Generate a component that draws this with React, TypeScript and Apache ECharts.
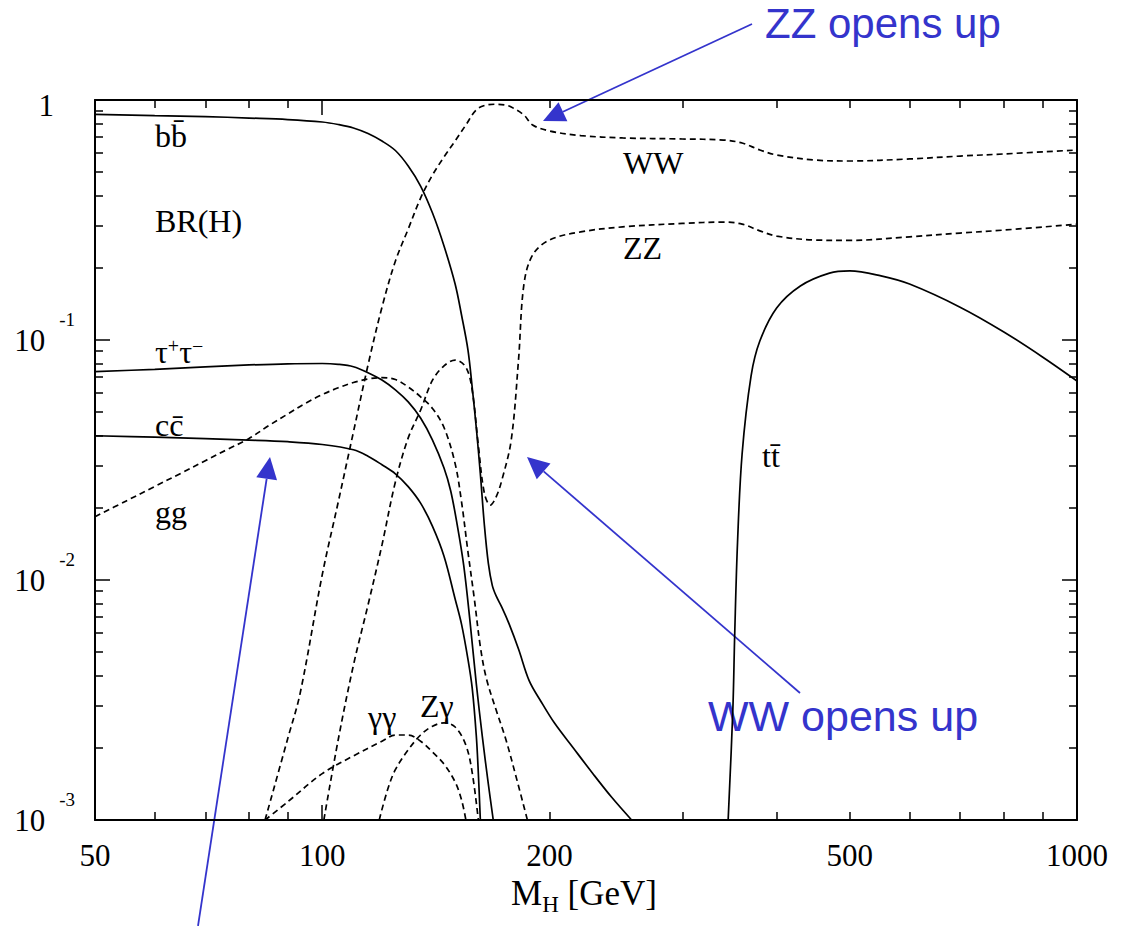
import React, { useEffect, useRef } from "react";
import * as echarts from "echarts";

// ---------- data (M_H in GeV, branching ratio) ----------
const massBB = [50, 60, 70, 80, 90, 100, 105, 110, 115, 120, 125, 130, 135, 140, 145, 150, 153, 156, 158, 160, 162, 164, 166, 168, 170, 173, 177, 182, 188, 195, 203, 215, 228, 242, 257];
const brBB = [0.872, 0.861, 0.853, 0.841, 0.829, 0.8096, 0.7905, 0.7647, 0.7249, 0.6745, 0.616, 0.531, 0.438, 0.338, 0.2464, 0.171, 0.1265, 0.0908, 0.0637, 0.0431, 0.0277, 0.01695, 0.01173, 0.0095, 0.00858, 0.00769, 0.00652, 0.00516, 0.00381, 0.00311, 0.00254, 0.002, 0.00157, 0.00124, 0.001];

const massTau = [50, 60, 70, 80, 90, 100, 105, 110, 115, 120, 125, 130, 135, 140, 145, 148, 151, 154, 157, 160, 163, 166, 168.5];
const brTau = [0.0738, 0.0755, 0.0773, 0.0787, 0.0796, 0.0798, 0.0792, 0.0774, 0.0731, 0.0681, 0.062, 0.0552, 0.0473, 0.0383, 0.0293, 0.0235, 0.01688, 0.01147, 0.00668, 0.0037, 0.00222, 0.00141, 0.001];

const massCC = [50, 60, 70, 80, 90, 100, 110, 115, 120, 125, 130, 135, 140, 145, 150, 153, 156, 158, 160, 161, 162];
const brCC = [0.0399, 0.0394, 0.0388, 0.0383, 0.0377, 0.0367, 0.0349, 0.0328, 0.0302, 0.0277, 0.0245, 0.0209, 0.01674, 0.01257, 0.00834, 0.00652, 0.00467, 0.00356, 0.00225, 0.00157, 0.001];

const massGG = [50, 55, 60, 65, 70, 75, 80, 85, 90, 95, 100, 105, 110, 115, 120, 125, 130, 135, 140, 145, 150, 153, 156, 159, 162, 165, 170, 175, 181, 187];
const brGG = [0.01835, 0.02136, 0.02453, 0.02786, 0.03141, 0.03508, 0.03887, 0.04402, 0.04914, 0.05448, 0.05922, 0.06322, 0.0665, 0.06878, 0.06971, 0.06845, 0.0637, 0.05799, 0.05184, 0.04319, 0.03055, 0.02105, 0.01308, 0.00841, 0.00527, 0.00389, 0.00287, 0.00218, 0.00148, 0.001];

const massWW = [84, 90, 93.5, 100, 105, 110, 115, 120, 125, 130, 135, 140, 145, 150, 155, 160, 165, 170, 175, 178, 185, 190, 200, 220, 250, 300, 340, 360, 380, 400, 450, 500, 600, 700, 800, 1000];
const brWW = [0.001, 0.00218, 0.00338, 0.0105, 0.0211, 0.0414, 0.0787, 0.137, 0.213, 0.29, 0.39, 0.487, 0.579, 0.675, 0.787, 0.91, 0.953, 0.96, 0.953, 0.935, 0.866, 0.787, 0.743, 0.711, 0.695, 0.688, 0.681, 0.662, 0.619, 0.59, 0.562, 0.557, 0.568, 0.584, 0.596, 0.619];

const massZZ = [100.5, 105, 110, 115, 120, 125, 130, 135, 140, 145, 150, 155, 158, 161, 164, 167, 170, 173, 178, 182, 185, 190, 200, 220, 250, 300, 340, 360, 380, 400, 450, 500, 600, 700, 800, 1000];
const brZZ = [0.001, 0.00216, 0.00442, 0.00787, 0.014, 0.0256, 0.0391, 0.051, 0.068, 0.078, 0.0825, 0.077, 0.0619, 0.0365, 0.023, 0.0205, 0.0222, 0.0261, 0.0383, 0.0825, 0.17, 0.226, 0.261, 0.282, 0.296, 0.306, 0.31, 0.304, 0.285, 0.271, 0.261, 0.26, 0.269, 0.279, 0.287, 0.304];

const massTT = [345, 350, 352, 355, 360, 370, 380, 400, 430, 470, 500, 550, 600, 700, 800, 900, 1000];
const brTT = [0.001, 0.0029, 0.006, 0.0143, 0.0335, 0.0709, 0.099, 0.136, 0.168, 0.19, 0.194, 0.185, 0.171, 0.137, 0.108, 0.085, 0.0675];

const massAA = [84, 90, 100, 110, 120, 125, 130, 135, 140, 145, 150, 153, 155];
const brAA = [0.001, 0.00119, 0.00156, 0.00185, 0.00213, 0.00226, 0.00226, 0.00213, 0.00192, 0.00171, 0.00144, 0.00121, 0.001];

const massZA = [119, 122, 125, 130, 135, 140, 145, 150, 155, 158, 161];
const brZA = [0.001, 0.00133, 0.00162, 0.00196, 0.00226, 0.00246, 0.00254, 0.00244, 0.00205, 0.00158, 0.001];

// ---------- axis ticks / labels ----------
const xLabelValues = [50, 100, 200, 500, 1000];
const xMajorTicks = [100, 1000];
const xMinorTicks = [60, 70, 80, 90, 200, 300, 400, 500, 600, 700, 800, 900];
const yMajorTicks = [0.001, 0.01, 0.1, 1];
const yMinorTicks = [
  0.002, 0.003, 0.004, 0.005, 0.006, 0.007, 0.008, 0.009,
  0.02, 0.03, 0.04, 0.05, 0.06, 0.07, 0.08, 0.09,
  0.2, 0.3, 0.4, 0.5, 0.6, 0.7, 0.8, 0.9,
];

const SERIF = "Liberation Serif";
const SANS = "Liberation Sans";
const BLUE = "#3434cc";

function xAxisDef(position: string, ticks: number[], len: number, showLine: boolean, showLabel: boolean) {
  return {
    type: "log",
    logBase: 10,
    min: 50,
    max: 1000,
    position,
    axisLine: { show: showLine, lineStyle: { color: "#000", width: 2 } },
    axisTick: { show: true, inside: true, length: len, customValues: ticks, lineStyle: { color: "#000", width: 1.5 } },
    axisLabel: showLabel
      ? { show: true, customValues: xLabelValues, margin: 20, color: "#000", fontFamily: SERIF, fontSize: 31, formatter: (v: number) => String(Math.round(v)) }
      : { show: false },
    splitLine: { show: false },
    minorTick: { show: false },
  };
}

function yAxisDef(position: string, ticks: number[], len: number, showLine: boolean, showLabel: boolean) {
  return {
    type: "log",
    logBase: 10,
    min: 0.001,
    max: 1,
    position,
    axisLine: { show: showLine, lineStyle: { color: "#000", width: 2 } },
    axisTick: { show: true, inside: true, length: len, customValues: ticks, lineStyle: { color: "#000", width: 1.5 } },
    axisLabel: showLabel
      ? {
          show: true,
          customValues: yMajorTicks,
          margin: 20,
          fontFamily: SERIF,
          formatter: (v: number) => {
            const e = Math.round(Math.log10(v));
            if (e === 0) return "{one|1}";
            return "{b|10}{s|" + e + "}";
          },
          rich: {
            one: { fontSize: 31, fontFamily: SERIF, color: "#000", padding: [10, 21, 0, 0] },
            b: { fontSize: 31, fontFamily: SERIF, color: "#000", verticalAlign: "middle" },
            s: { fontSize: 19, fontFamily: SERIF, color: "#000", verticalAlign: "top", padding: [0, 0, 42, 14] },
          },
        }
      : { show: false },
    splitLine: { show: false },
    minorTick: { show: false },
  };
}

function curve(name: string, ms: number[], brs: number[], dashed: boolean) {
  return {
    type: "line",
    name,
    xAxisIndex: 0,
    yAxisIndex: 0,
    data: ms.map((m, i) => [m, brs[i]]),
    symbol: "none",
    showSymbol: false,
    smooth: 0.35,
    silent: true,
    clip: true,
    lineStyle: { color: "#000", width: 1.7, type: dashed ? [6, 4] : "solid" },
  };
}

function arrow(x1: number, y1: number, x2: number, y2: number) {
  const dx = x2 - x1;
  const dy = y2 - y1;
  const L = Math.sqrt(dx * dx + dy * dy);
  const ux = dx / L;
  const uy = dy / L;
  const hl = 22;
  const hw = 10.5;
  const bx = x2 - ux * hl;
  const by = y2 - uy * hl;
  return [
    { type: "line", shape: { x1, y1, x2: bx, y2: by }, style: { stroke: BLUE, lineWidth: 1.8 }, silent: true },
    {
      type: "polygon",
      shape: { points: [[x2, y2], [bx - uy * hw, by + ux * hw], [bx + uy * hw, by - ux * hw]] },
      style: { fill: BLUE },
      silent: true,
    },
  ];
}

function label(text: string, x: number, y: number) {
  return {
    type: "text",
    x,
    y,
    silent: true,
    style: { text, fontFamily: SERIF, fontSize: 32, fill: "#000", align: "left", verticalAlign: "middle" },
  };
}

export default function App() {
  const ref = useRef<HTMLDivElement>(null);
  useEffect(() => {
    if (!ref.current) return;
    const chart = echarts.init(ref.current, undefined, { renderer: "svg" });
    const supRich = {
      a: { fontSize: 32, fontFamily: SERIF, fill: "#000", verticalAlign: "bottom" },
      s: { fontSize: 20, fontFamily: SERIF, fill: "#000", verticalAlign: "top" },
    };
    chart.setOption({
      animation: false,
      backgroundColor: "#fff",
      grid: { left: 95, right: 49, top: 100, bottom: 106, containLabel: false, outerBoundsMode: "none" },
      xAxis: [
        xAxisDef("bottom", xMajorTicks, 15, true, true),
        xAxisDef("bottom", xMinorTicks, 8, false, false),
        xAxisDef("top", xMajorTicks, 15, true, false),
        xAxisDef("top", xMinorTicks, 8, false, false),
      ],
      yAxis: [
        yAxisDef("left", yMajorTicks, 15, true, true),
        yAxisDef("left", yMinorTicks, 8, false, false),
        yAxisDef("right", yMajorTicks, 15, true, false),
        yAxisDef("right", yMinorTicks, 8, false, false),
      ],
      series: [
        curve("bb", massBB, brBB, false),
        curve("tautau", massTau, brTau, false),
        curve("cc", massCC, brCC, false),
        curve("gg", massGG, brGG, true),
        curve("WW", massWW, brWW, true),
        curve("ZZ", massZZ, brZZ, true),
        curve("tt", massTT, brTT, false),
        curve("gammagamma", massAA, brAA, true),
        curve("Zgamma", massZA, brZA, true),
      ],
      graphic: [
        label("bb\u0304", 155, 136),
        label("BR(H)", 155, 221),
        {
          type: "text",
          x: 155,
          y: 352,
          silent: true,
          style: {
            text: "{a|τ}{s|+}{a|τ}{s|−}",
            fontFamily: SERIF,
            fontSize: 32,
            align: "left",
            verticalAlign: "middle",
            rich: supRich,
          },
        },
        label("cc\u0304", 155, 425),
        label("gg", 155, 512),
        label("WW", 623, 163),
        label("ZZ", 623, 248),
        label("tt\u0304", 762, 456),
        label("γγ", 368, 717),
        label("Zγ", 420, 706),
        {
          type: "text",
          x: 584,
          y: 896,
          silent: true,
          style: {
            text: "{a|M}{h|H}{a| [GeV]}",
            fontFamily: SERIF,
            fontSize: 35,
            align: "center",
            verticalAlign: "middle",
            rich: {
              a: { fontSize: 35, fontFamily: SERIF, fill: "#000", verticalAlign: "top" },
              h: { fontSize: 23, fontFamily: SERIF, fill: "#000", verticalAlign: "top", padding: [17, 0, 0, 0] },
            },
          },
        },
        {
          type: "text",
          x: 765,
          y: 23,
          silent: true,
          style: { text: "ZZ opens up", fontFamily: SANS, fontSize: 42, fill: BLUE, align: "left", verticalAlign: "middle" },
        },
        {
          type: "text",
          x: 708,
          y: 716,
          silent: true,
          style: { text: "WW opens up", fontFamily: SANS, fontSize: 43, fill: BLUE, align: "left", verticalAlign: "middle" },
        },
        ...arrow(752, 24, 543, 121),
        ...arrow(800, 693, 527, 457),
        ...arrow(198, 926, 270, 457),
      ],
    });
    return () => chart.dispose();
  }, []);
  return <div ref={ref} style={{ position: "absolute", left: 0, top: 0, width: 1126, height: 926 }} />;
}
